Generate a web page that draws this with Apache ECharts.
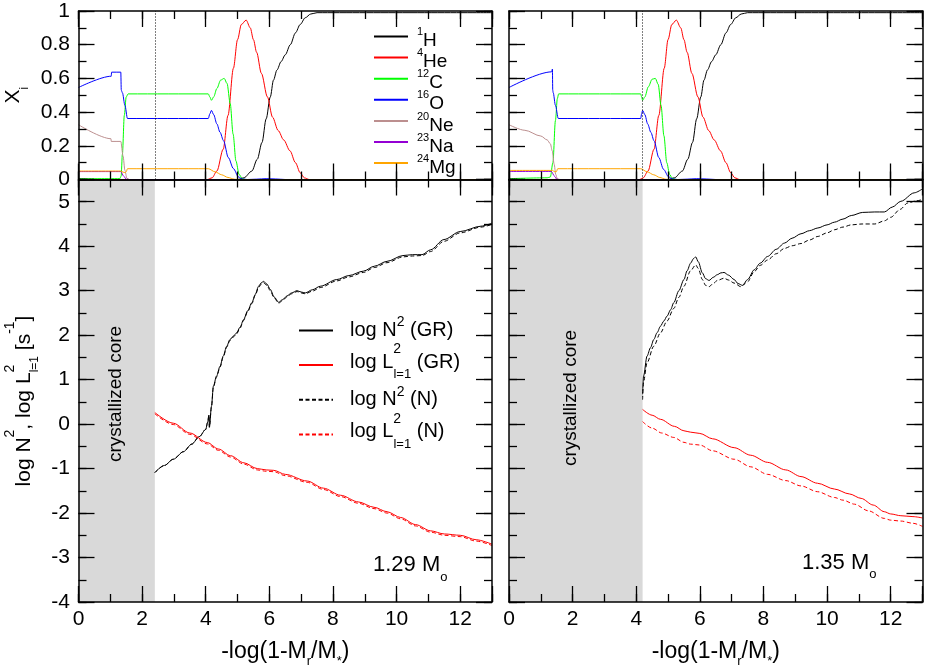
<!DOCTYPE html>
<html><head><meta charset="utf-8">
<script src="https://cdn.jsdelivr.net/npm/echarts@6.0.0/dist/echarts.min.js"></script>
<style>html,body{margin:0;padding:0;background:#fff}#c{width:926px;height:665px}</style>
</head><body><div id="c"></div>
<script>
const FONT = 'Liberation Sans';

// ---------- categories / labels ----------
const ISO_NAMES = ['H1','He4','C12','O16','Ne20','Na23','Mg24'];
const ISO_MASS  = ['1','4','12','16','20','23','24'];
const ISO_SYM   = ['H','He','C','O','Ne','Na','Mg'];
const PROFILE_NAMES = ['N2_GR','L2_GR','N2_N','L2_N'];
const MASS_LABELS = ['1.29 M','1.35 M'];
const CORE_129 = 2.4;
const CORE_135 = 4.2;

// ---------- 1.29 Msun : chemical profiles ----------
const X129_H1  = [[0,0],[5.0,0],[5.2,0.01],[5.45,0.05],[5.62,0.12],[5.77,0.22],[5.9,0.36],[6.03,0.49],[6.13,0.59],[6.24,0.65],[6.37,0.7],[6.5,0.74],[6.66,0.8],[6.82,0.87],[6.97,0.92],[7.13,0.96],[7.3,0.982],[7.5,0.99],[13,0.99]];
const X129_He4 = [[0,0],[4.05,0],[4.2,0.01],[4.35,0.05],[4.55,0.18],[4.7,0.38],[4.87,0.66],[5.0,0.83],[5.12,0.92],[5.27,0.946],[5.4,0.9],[5.5,0.83],[5.6,0.755],[5.75,0.63],[5.94,0.49],[6.1,0.37],[6.28,0.29],[6.45,0.235],[6.65,0.17],[6.82,0.1],[6.97,0.04],[7.1,0.01],[7.25,0],[13,0]];
const X129_C12 = [[0,0.005],[1.3,0.005],[1.34,0.02],[1.38,0.15],[1.44,0.38],[1.5,0.49],[1.56,0.508],[4.08,0.508],[4.13,0.49],[4.18,0.47],[4.25,0.49],[4.35,0.54],[4.47,0.59],[4.58,0.6],[4.67,0.57],[4.77,0.45],[4.86,0.27],[4.95,0.11],[5.05,0.03],[5.15,0.005],[5.25,0],[13,0]];
const X129_O16 = [[0,0.546],[1.03,0.613],[1.04,0.637],[1.33,0.637],[1.345,0.53],[1.38,0.515],[1.46,0.44],[1.54,0.362],[4.08,0.362],[4.13,0.39],[4.18,0.41],[4.25,0.385],[4.35,0.33],[4.45,0.28],[4.56,0.23],[4.71,0.13],[4.87,0.065],[5.03,0.015],[5.15,0.003],[5.3,0],[5.6,0.002],[5.9,0.005],[6.2,0.003],[6.5,0],[13,0]];
const X129_Ne20 = [[0,0.325],[1.02,0.242],[1.03,0.226],[1.33,0.226],[1.4,0.14],[1.46,0.054],[1.52,0.008],[1.6,0],[13,0]];
const X129_Na23 = [[0,0.047],[1.33,0.047],[1.42,0.02],[1.5,0.002],[1.56,0],[13,0]];
const X129_Mg24 = [[0,0.05],[1.33,0.05],[1.4,0.044],[1.47,0.04],[1.5,0.046],[1.54,0.064],[4.08,0.064],[4.3,0.045],[4.5,0.028],[4.7,0.012],[4.9,0.002],[5.0,0],[13,0]];

// ---------- 1.35 Msun : chemical profiles ----------
const X135_H1  = [[0,0],[5.0,0],[5.2,0.01],[5.45,0.05],[5.62,0.12],[5.77,0.22],[5.9,0.36],[6.03,0.49],[6.13,0.59],[6.24,0.65],[6.37,0.7],[6.5,0.74],[6.66,0.8],[6.82,0.87],[6.97,0.92],[7.13,0.96],[7.3,0.982],[7.5,0.99],[13,0.99]];
const X135_He4 = [[0,0],[4.1,0],[4.22,0.01],[4.37,0.05],[4.56,0.18],[4.71,0.38],[4.88,0.66],[5.0,0.83],[5.12,0.92],[5.26,0.946],[5.4,0.9],[5.5,0.83],[5.6,0.755],[5.75,0.63],[5.94,0.49],[6.1,0.37],[6.28,0.29],[6.45,0.235],[6.65,0.17],[6.82,0.1],[6.97,0.04],[7.1,0.01],[7.25,0],[13,0]];
const X135_C12 = [[0,0.005],[1.2,0.01],[1.3,0.015],[1.38,0.1],[1.46,0.35],[1.52,0.48],[1.56,0.508],[4.14,0.508],[4.17,0.49],[4.2,0.47],[4.27,0.49],[4.38,0.55],[4.5,0.595],[4.6,0.6],[4.69,0.565],[4.78,0.44],[4.87,0.26],[4.96,0.1],[5.05,0.03],[5.13,0.008],[5.25,0],[13,0]];
const X135_O16 = [[0,0.546],[1.34,0.639],[1.365,0.655],[1.375,0.53],[1.39,0.515],[1.46,0.44],[1.55,0.362],[4.14,0.362],[4.17,0.39],[4.2,0.41],[4.27,0.385],[4.36,0.33],[4.46,0.28],[4.56,0.23],[4.71,0.13],[4.86,0.06],[5.02,0.015],[5.15,0.003],[5.3,0],[5.6,0.002],[5.9,0.005],[6.2,0.003],[6.5,0],[13,0]];
const X135_Ne20 = [[0,0.325],[0.5,0.292],[1.0,0.258],[1.2,0.235],[1.3,0.212],[1.36,0.17],[1.42,0.09],[1.47,0.03],[1.52,0.004],[1.6,0],[13,0]];
const X135_Na23 = [[0,0.048],[1.33,0.048],[1.43,0.02],[1.5,0.002],[1.56,0],[13,0]];
const X135_Mg24 = [[0,0.054],[1.37,0.054],[1.42,0.047],[1.49,0.046],[1.53,0.064],[4.14,0.064],[4.35,0.045],[4.55,0.028],[4.74,0.012],[4.92,0.002],[5.02,0],[13,0]];

// ---------- 1.29 Msun : log N^2, log L^2 ----------
const N129_GR = [[2.4,-1.09],[2.7,-0.93],[2.98,-0.79],[3.3,-0.62],[3.56,-0.45],[3.8,-0.28],[4.0,-0.12],[4.06,0.04],[4.1,0.2],[4.115,-0.07],[4.18,0.4],[4.24,0.85],[4.34,1.08],[4.45,1.3],[4.55,1.53],[4.66,1.75],[4.76,1.9],[4.87,1.98],[4.97,2.05],[5.08,2.18],[5.19,2.35],[5.32,2.55],[5.45,2.73],[5.56,2.92],[5.66,3.1],[5.75,3.18],[5.82,3.21],[5.92,3.15],[6.03,3.03],[6.15,2.86],[6.29,2.74],[6.42,2.8],[6.55,2.88],[6.7,2.95],[6.87,3.0],[7.0,2.97],[7.13,2.95],[7.35,3.02],[7.6,3.1],[8.12,3.25],[8.5,3.34],[8.96,3.44],[9.3,3.55],[9.7,3.66],[10.2,3.79],[10.5,3.81],[10.8,3.81],[11.07,3.92],[11.49,4.15],[12.0,4.33],[12.65,4.45],[13,4.52]];
const N129_N  = [[2.4,-1.09],[2.7,-0.93],[2.98,-0.79],[3.3,-0.62],[3.56,-0.45],[3.8,-0.28],[4.0,-0.12],[4.06,0.04],[4.1,0.2],[4.115,-0.07],[4.18,0.38],[4.24,0.83],[4.34,1.06],[4.45,1.28],[4.55,1.51],[4.66,1.73],[4.76,1.88],[4.87,1.96],[4.97,2.03],[5.08,2.16],[5.19,2.33],[5.32,2.53],[5.45,2.71],[5.56,2.9],[5.66,3.07],[5.75,3.15],[5.82,3.18],[5.92,3.12],[6.03,3.0],[6.15,2.84],[6.29,2.72],[6.42,2.78],[6.55,2.86],[6.7,2.93],[6.87,2.98],[7.0,2.95],[7.13,2.93],[7.35,2.99],[7.6,3.07],[8.12,3.22],[8.5,3.31],[8.96,3.41],[9.3,3.52],[9.7,3.63],[10.2,3.76],[10.5,3.78],[10.8,3.79],[11.07,3.88],[11.49,4.11],[12.0,4.3],[12.65,4.43],[13,4.49]];
const L129_GR = [[2.4,0.26],[2.98,0.02],[3.5,-0.2],[4.05,-0.415],[4.4,-0.56],[4.78,-0.71],[5.2,-0.87],[5.62,-1.0],[5.9,-1.03],[6.14,-1.04],[6.5,-1.13],[7.19,-1.28],[7.7,-1.44],[8.24,-1.6],[8.8,-1.75],[9.29,-1.87],[9.7,-1.97],[10.13,-2.1],[10.6,-2.26],[11.07,-2.4],[11.5,-2.47],[12.0,-2.5],[12.5,-2.6],[13,-2.7]];
const L129_N  = [[2.4,0.23],[2.98,-0.01],[3.5,-0.23],[4.05,-0.445],[4.4,-0.59],[4.78,-0.74],[5.2,-0.9],[5.62,-1.03],[5.9,-1.06],[6.14,-1.07],[6.5,-1.16],[7.19,-1.31],[7.7,-1.47],[8.24,-1.63],[8.8,-1.78],[9.29,-1.9],[9.7,-2.0],[10.13,-2.13],[10.6,-2.29],[11.07,-2.43],[11.5,-2.5],[12.0,-2.53],[12.5,-2.63],[13,-2.73]];

// ---------- 1.35 Msun : log N^2, log L^2 ----------
const N135_GR = [[4.2,0.67],[4.23,1.08],[4.34,1.53],[4.45,1.72],[4.55,1.9],[4.66,2.06],[4.76,2.2],[4.87,2.32],[4.97,2.43],[5.08,2.57],[5.18,2.73],[5.34,3.0],[5.5,3.25],[5.6,3.45],[5.71,3.62],[5.8,3.72],[5.87,3.76],[5.95,3.65],[6.08,3.4],[6.18,3.27],[6.29,3.23],[6.42,3.3],[6.55,3.36],[6.66,3.4],[6.76,3.41],[6.9,3.35],[7.08,3.25],[7.2,3.16],[7.34,3.12],[7.5,3.25],[7.71,3.47],[7.9,3.62],[8.13,3.77],[8.4,3.93],[8.66,4.07],[8.9,4.18],[9.18,4.28],[9.45,4.35],[9.71,4.41],[10.0,4.48],[10.23,4.54],[10.5,4.61],[10.76,4.69],[11.12,4.76],[11.5,4.77],[11.8,4.77],[12.05,4.88],[12.32,5.01],[12.74,5.2],[13,5.29]];
const N135_N  = [[4.2,0.55],[4.23,0.95],[4.34,1.38],[4.55,1.75],[4.76,2.05],[4.97,2.32],[5.18,2.6],[5.34,2.85],[5.5,3.1],[5.71,3.45],[5.87,3.58],[5.95,3.5],[6.08,3.25],[6.18,3.12],[6.29,3.09],[6.42,3.16],[6.55,3.23],[6.76,3.28],[6.9,3.24],[7.08,3.17],[7.29,3.09],[7.5,3.2],[7.71,3.43],[7.9,3.57],[8.13,3.69],[8.4,3.83],[8.66,3.95],[8.9,4.01],[9.18,4.06],[9.45,4.14],[9.71,4.22],[10.0,4.3],[10.23,4.37],[10.5,4.43],[10.76,4.48],[11.1,4.5],[11.5,4.5],[11.8,4.57],[12.0,4.65],[12.3,4.83],[12.53,4.97],[12.8,5.02],[13,5.05]];
const L135_GR = [[4.2,0.33],[4.5,0.2],[4.76,0.108],[5.2,-0.05],[5.5,-0.15],[5.7,-0.18],[6.0,-0.21],[6.4,-0.33],[7.08,-0.53],[7.6,-0.7],[8.13,-0.86],[8.7,-1.03],[9.18,-1.18],[9.7,-1.33],[10.23,-1.46],[10.7,-1.57],[11.07,-1.67],[11.45,-1.82],[11.8,-1.97],[12.0,-2.02],[12.32,-2.06],[12.7,-2.08],[13,-2.11]];
const L135_N  = [[4.2,0.056],[4.5,-0.09],[4.8,-0.2],[5.18,-0.3],[5.5,-0.41],[5.7,-0.45],[6.0,-0.47],[6.4,-0.6],[7.08,-0.79],[7.6,-0.96],[8.13,-1.13],[8.7,-1.27],[9.18,-1.39],[9.7,-1.52],[10.23,-1.65],[10.5,-1.71],[10.86,-1.8],[11.3,-1.95],[11.8,-2.12],[12.0,-2.16],[12.32,-2.18],[12.7,-2.23],[13,-2.3]];

// ---------- styles ----------
const ISO_COLORS = ['#000000','#ff0000','#00ff00','#0000ff','#bc8f8f','#9400d3','#ffa500'];
const TICK = {color:'#000', width:1.3};

function tk(fs, L, dy, extra) {
  const pad = dy >= 0 ? [2*dy,0,0,0] : [0,0,-2*dy,0];
  return Object.assign({fontFamily:FONT, fontSize:fs, lineHeight:L, color:'#000', fill:'#000',
    align:'left', verticalAlign:'middle', padding:pad}, extra || {});
}
const RICH_TOPLEG = {m: tk(19,14,4.4), p: tk(11,14,-4.4)};
const RICH_BOTLEG = {m: tk(20,14,0), p: tk(14,14,-8.1), m2: tk(20,14,-2.9), q: tk(14,14,-15.8,{width:0.1}), b: tk(13,14,9.5)};
const RICH_YT = {m: tk(21,21,0), p: tk(14,21,-14), q: tk(14,21,-14,{width:0.1}), b: tk(12,21,9.9)};
const RICH_XI = {m: tk(21,21,0), b: tk(12,21,12)};
const RICH_XT = {m: tk(23,23,0), b: tk(13,23,10)};
const RICH_MASS = {m: tk(22,22,0), b: tk(13,22,12)};

const X_TITLE = '{m|-log(1-M}{b|r}{m|/M}{b|*}{m|)}';
const Y_TITLE_TOP = '{m|X}{b|i}';
const Y_TITLE_BOT = '{m|log N}{p|2}{m|, log L}{q|2}{b|l=1}{m| [s}{p|-1}{m|]}';

function xAxes(g, bottomPanel) {
  const base = {gridIndex:g, type:'value', min:0, max:13, z:10, splitLine:{show:false}};
  const major = (pos, labels) => Object.assign({}, base, {position:pos, interval:2,
    axisLine:{show:true, onZero:false, lineStyle:{color:'#000', width:1.5}},
    axisTick:{show:true, inside:true, length:16, lineStyle:TICK},
    axisLabel:{show:labels, margin:7, color:'#000', fontFamily:FONT, fontSize:21,
      formatter: v => (Math.round(v) % 2 === 0 ? String(Math.round(v)) : '')}});
  const minor = pos => Object.assign({}, base, {position:pos, interval:1,
    axisLine:{show:false, onZero:false}, axisTick:{show:true, inside:true, length:8, lineStyle:TICK},
    axisLabel:{show:false}});
  const arr = [major('bottom', bottomPanel), minor('bottom'), major('top', false), minor('top')];
  if (bottomPanel) Object.assign(arr[0], {name:X_TITLE, nameLocation:'middle', nameGap:33.5,
    nameTextStyle:{rich:RICH_XT, fontFamily:FONT, fontSize:23, color:'#000'}});
  return arr;
}
function yAxes(g, top, left) {
  const base = Object.assign({gridIndex:g, type:'value', z:10, splitLine:{show:false}},
    top ? {min:0, max:1} : {min:-4, max:5.5});
  const fmt = top ? (v => String(+v.toFixed(1))) :
    (v => Math.abs(v - Math.round(v)) < 1e-6 ? String(Math.round(v)) : '');
  const major = (pos, labels) => Object.assign({}, base, {position:pos, interval: top ? 0.2 : 1,
    axisLine:{show:true, onZero:false, lineStyle:{color:'#000', width:1.5}},
    axisTick:{show:true, inside:true, length:16, lineStyle:TICK},
    axisLabel:{show:labels, margin:8.5, color:'#000', fontFamily:FONT, fontSize:21, formatter:fmt}});
  const minor = pos => Object.assign({}, base, {position:pos, interval: top ? 0.1 : 0.5,
    axisLine:{show:false, onZero:false}, axisTick:{show:true, inside:true, length:8, lineStyle:TICK},
    axisLabel:{show:false}});
  const arr = [major('left', left), minor('left'), major('right', false), minor('right')];
  if (left && top) Object.assign(arr[0], {name:Y_TITLE_TOP, nameLocation:'middle', nameGap:55,
    nameTextStyle:{rich:RICH_XI, fontFamily:FONT, fontSize:21, color:'#000'}});
  return arr;
}

const grids = [
  {left:78.5, top:11, width:413.5, height:168.5},
  {left:78.5, top:179.5, width:413.5, height:422.5},
  {left:509, top:11, width:413.5, height:168.5},
  {left:509, top:179.5, width:413.5, height:422.5}
].map(g => Object.assign({show:false, containLabel:false, outerBoundsMode:'none'}, g));

const xAxis = [].concat(xAxes(0,false), xAxes(1,true), xAxes(2,false), xAxes(3,true));
const yAxis = [].concat(yAxes(0,true,true), yAxes(1,false,true), yAxes(2,true,false), yAxes(3,false,false));

const series = [];
function topSeries(g, sets, core) {
  sets.forEach((d, i) => {
    const s = {type:'line', name:ISO_NAMES[i], xAxisIndex:4*g, yAxisIndex:4*g, data:d,
      symbol:'none', showSymbol:false, smooth:0.3, smoothMonotone:'x', silent:true,
      lineStyle:{color:ISO_COLORS[i], width:1}, itemStyle:{color:ISO_COLORS[i]}, z:2};
    if (i === 0) s.markLine = {silent:true, symbol:['none','none'], label:{show:false},
      lineStyle:{color:'#000', width:1, type:[1,2]}, data:[{xAxis:core}]};
    series.push(s);
  });
}
function botSeries(g, sets, core) {
  const cols = ['#000000','#ff0000','#000000','#ff0000'];
  const types = ['solid','solid',[4,2.5],[4,2.5]];
  sets.forEach((d, i) => {
    const s = {type:'line', name:PROFILE_NAMES[i], xAxisIndex:4*g, yAxisIndex:4*g, data:d,
      symbol:'none', showSymbol:false, smooth:0.3, smoothMonotone:'x', silent:true,
      lineStyle:{color:cols[i], width:1, type:types[i]}, itemStyle:{color:cols[i]}, z:2};
    if (i === 0) s.markArea = {silent:true, itemStyle:{color:'#d9d9d9', opacity:1},
      data:[[{xAxis:0},{xAxis:core}]]};
    series.push(s);
  });
}
topSeries(0, [X129_H1,X129_He4,X129_C12,X129_O16,X129_Ne20,X129_Na23,X129_Mg24], CORE_129);
botSeries(1, [N129_GR,L129_GR,N129_N,L129_N], CORE_129);
topSeries(2, [X135_H1,X135_He4,X135_C12,X135_O16,X135_Ne20,X135_Na23,X135_Mg24], CORE_135);
botSeries(3, [N135_GR,L135_GR,N135_N,L135_N], CORE_135);

const legend = [
  {left:373, top:22.6, orient:'vertical', padding:0, itemWidth:34, itemHeight:14, itemGap:-6.7,
   selectedMode:false, data:ISO_NAMES, itemStyle:{opacity:0, borderWidth:0},
   formatter: n => { const i = ISO_NAMES.indexOf(n); return '{p|' + ISO_MASS[i] + '}{m|' + ISO_SYM[i] + '}'; },
   textStyle:{fontFamily:FONT, fontSize:19, color:'#000', rich:RICH_TOPLEG, padding:[0,0,0,4]}},
  {left:298, top:315.3, orient:'vertical', padding:0, itemWidth:34, itemHeight:14, itemGap:-3.2,
   selectedMode:false, data:PROFILE_NAMES, itemStyle:{opacity:0, borderWidth:0},
   formatter: n => ({
     N2_GR:'{m|log N}{p|2}{m| (GR)}',
     L2_GR:'{m2|log L}{q|2}{b|l=1}{m2| (GR)}',
     N2_N:'{m|log N}{p|2}{m| (N)}',
     L2_N:'{m2|log L}{q|2}{b|l=1}{m2| (N)}'})[n],
   textStyle:{fontFamily:FONT, fontSize:20, color:'#000', rich:RICH_BOTLEG, padding:[0,0,0,12]}}
];

const graphic = [
  {type:'text', x:24.4, y:401, rotation:Math.PI/2, z:20,
   style:{text:Y_TITLE_BOT, rich:RICH_YT, fontFamily:FONT, fontSize:21, fill:'#000', align:'center', verticalAlign:'middle'}},
  {type:'text', x:116, y:394, rotation:Math.PI/2, z:20,
   style:{text:'crystallized core', fontFamily:FONT, fontSize:19, fill:'#000', align:'center', verticalAlign:'middle'}},
  {type:'text', x:571, y:398, rotation:Math.PI/2, z:20,
   style:{text:'crystallized core', fontFamily:FONT, fontSize:19, fill:'#000', align:'center', verticalAlign:'middle'}},
  {type:'text', x:373, y:565, z:20,
   style:{text:'{m|' + MASS_LABELS[0] + '}{b|o}', rich:RICH_MASS, fontFamily:FONT, fontSize:22, fill:'#000', align:'left', verticalAlign:'middle'}},
  {type:'text', x:802, y:562.5, z:20,
   style:{text:'{m|' + MASS_LABELS[1] + '}{b|o}', rich:RICH_MASS, fontFamily:FONT, fontSize:22, fill:'#000', align:'left', verticalAlign:'middle'}}
];

const chart = echarts.init(document.getElementById('c'), null, {renderer:'canvas'});
chart.setOption({
  animation:false, backgroundColor:'#fff',
  textStyle:{fontFamily:FONT},
  grid:grids, xAxis:xAxis, yAxis:yAxis, series:series, legend:legend, graphic:graphic
});
</script></body></html>
